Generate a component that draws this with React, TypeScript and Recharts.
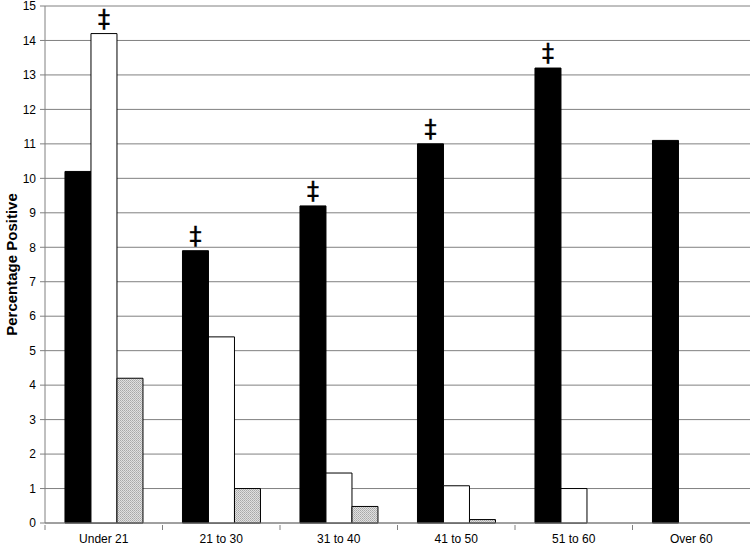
import { BarChart, Bar, XAxis, YAxis, CartesianGrid, LabelList } from 'recharts';

const ageGroups = ['Under 21', '21 to 30', '31 to 40', '41 to 50', '51 to 60', 'Over 60'];
const blackValues = [10.2, 7.9, 9.2, 11.0, 13.2, 11.1];
const whiteValues = [14.2, 5.4, 1.45, 1.08, 1.0, 0];
const grayValues = [4.2, 1.0, 0.48, 0.1, 0, 0];
const blackMarks = ['', '‡', '‡', '‡', '‡', ''];
const whiteMarks = ['‡', '', '', '', '', ''];
const yTicks = [0, 1, 2, 3, 4, 5, 6, 7, 8, 9, 10, 11, 12, 13, 14, 15];

const data = ageGroups.map((group, i) => ({
  group,
  black: blackValues[i],
  white: whiteValues[i],
  gray: grayValues[i],
  blackMark: blackMarks[i],
  whiteMark: whiteMarks[i],
}));

const FONT = '"Liberation Sans", Arial, sans-serif';
const WIDTH = 750;
const HEIGHT = 545;
const Y_AXIS_WIDTH = 45;
const BAND = (WIDTH - Y_AXIS_WIDTH) / ageGroups.length;

const CategoryTick = (props: any) => {
  const { x, y, payload } = props;
  const left = x - BAND / 2;
  return (
    <g>
      <line x1={left} y1={y} x2={left} y2={y + 5} stroke="#808080" />
      <text x={x} y={y + 18} textAnchor="middle" fontSize={12} fontFamily={FONT} fill="#000">
        {payload.value}
      </text>
    </g>
  );
};

// double-dagger significance marks above bars
const Dagger = (props: any) => {
  const { x, y, width, value } = props;
  if (!value) return null;
  return (
    <text
      x={x + width / 2}
      y={y - 7}
      textAnchor="middle"
      fontSize={24}
      fontFamily='"DejaVu Sans", sans-serif'
      fill="#000"
      stroke="#000"
      strokeWidth={0.4}
    >
      {value}
    </text>
  );
};

export default function App() {
  return (
    <div style={{ position: 'absolute', left: 0, top: 0, background: '#fff' }}>
      <BarChart
        width={WIDTH}
        height={HEIGHT}
        data={data}
        margin={{ top: 6, right: 0, bottom: 0, left: 0 }}
        barCategoryGap="17%"
        barGap={0}
      >
        <defs>
          <pattern id="dots" width="2" height="2" patternUnits="userSpaceOnUse">
            <rect width="2" height="2" fill="#e0e0e0" />
            <rect width="1" height="1" fill="#a8a8a8" />
            <rect x="1" y="1" width="1" height="1" fill="#b8b8b8" />
          </pattern>
        </defs>
        <CartesianGrid vertical={false} stroke="#808080" />
        <XAxis
          dataKey="group"
          tick={<CategoryTick />}
          tickLine={false}
          tickSize={0}
          height={22}
          axisLine={{ stroke: '#808080' }}
          interval={0}
        />
        <YAxis
          domain={[0, 15]}
          ticks={yTicks}
          width={Y_AXIS_WIDTH}
          tickSize={5}
          tickMargin={4}
          interval={0}
          axisLine={{ stroke: '#808080' }}
          tickLine={{ stroke: '#808080' }}
          tick={{ fill: '#000', fontSize: 12, fontFamily: FONT }}
          label={{
            value: 'Percentage Positive',
            angle: -90,
            position: 'insideLeft',
            offset: 12,
            style: { textAnchor: 'middle', fontSize: 15, fontWeight: 'bold', fontFamily: FONT, fill: '#000' },
          }}
        />
        <Bar dataKey="black" fill="#000" stroke="#000" isAnimationActive={false}>
          <LabelList dataKey="blackMark" content={<Dagger />} />
        </Bar>
        <Bar dataKey="white" fill="#fff" stroke="#000" isAnimationActive={false}>
          <LabelList dataKey="whiteMark" content={<Dagger />} />
        </Bar>
        <Bar dataKey="gray" fill="url(#dots)" stroke="#000" isAnimationActive={false} />
      </BarChart>
    </div>
  );
}
